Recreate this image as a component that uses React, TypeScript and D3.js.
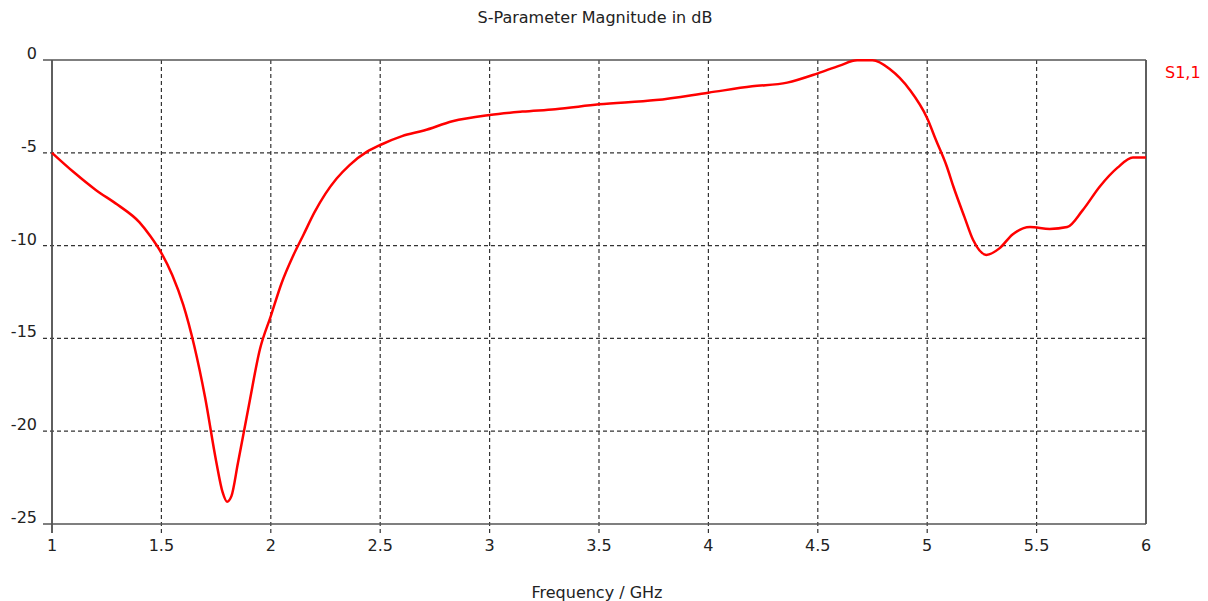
import React from "react";
import * as d3 from "d3";

const freq = [1.0, 1.1, 1.2, 1.3, 1.4, 1.45, 1.5, 1.55, 1.6, 1.65, 1.7, 1.75, 1.78, 1.8, 1.82, 1.85, 1.9, 1.95, 2.0, 2.05, 2.1, 2.15, 2.2, 2.25, 2.3, 2.36, 2.44, 2.5, 2.6, 2.7, 2.83, 3.0, 3.15, 3.3, 3.5, 3.76, 4.0, 4.2, 4.36, 4.5, 4.6, 4.68, 4.75, 4.83, 4.92, 5.0, 5.04, 5.09, 5.12, 5.17, 5.21, 5.27, 5.33, 5.39, 5.47, 5.56, 5.64, 5.71, 5.79, 5.87, 5.94, 6.0];
const s11 = [-5.0, -6.05, -7.0, -7.8, -8.75, -9.5, -10.4, -11.6, -13.2, -15.4, -18.2, -21.6, -23.3, -23.8, -23.5, -21.7, -18.6, -15.6, -13.8, -12.0, -10.6, -9.4, -8.2, -7.2, -6.4, -5.66, -4.94, -4.58, -4.1, -3.8, -3.3, -2.96, -2.78, -2.65, -2.39, -2.16, -1.76, -1.42, -1.22, -0.72, -0.3, -0.02, -0.02, -0.5, -1.6, -3.14, -4.31, -5.75, -6.83, -8.45, -9.7, -10.5, -10.15, -9.4, -9.0, -9.1, -9.0, -8.1, -6.8, -5.8, -5.25, -5.25];
const xTicks = [1, 1.5, 2, 2.5, 3, 3.5, 4, 4.5, 5, 5.5, 6];
const yTicks = [0, -5, -10, -15, -20, -25];
const title = "S-Parameter Magnitude in dB";
const xLabel = "Frequency / GHz";
const seriesName = "S1,1";

export default function App() {
  const left = 52, right = 1146, top = 60, bottom = 524;
  const x = d3.scaleLinear().domain([1, 6]).range([left, right]);
  const y = d3.scaleLinear().domain([-25, 0]).range([bottom, top]);
  const line = d3
    .line<number>()
    .x((_, i) => x(freq[i]))
    .y((d) => y(d))
    .curve(d3.curveMonotoneX);
  const font = "DejaVu Sans, Verdana, sans-serif";
  const axisColor = "#555";
  const gridColor = "#333";
  return (
    <svg width={1208} height={601} style={{ position: "absolute", left: 0, top: 0, background: "#fff" }} fontFamily={font}>
      <rect x={0} y={0} width={1208} height={601} fill="#fff" />
      <text x={595} y={23} textAnchor="middle" fontSize={16} fill="#222">{title}</text>
      {xTicks.map((t) => {
        const edge = t === 1 || t === 6;
        return (
          <line key={"gx" + t} x1={x(t)} x2={x(t)} y1={top} y2={t === 6 ? bottom : bottom + 9}
            stroke={edge ? axisColor : gridColor} strokeWidth={edge ? 1.5 : 1.2}
            strokeDasharray={edge ? undefined : "4,3"} />
        );
      })}
      {yTicks.map((t) => {
        const edge = t === 0 || t === -25;
        return (
          <line key={"gy" + t} x1={left - 9} x2={right} y1={y(t)} y2={y(t)}
            stroke={edge ? axisColor : gridColor} strokeWidth={edge ? 1.5 : 1.2}
            strokeDasharray={edge ? undefined : "4,3"} />
        );
      })}
      <line x1={x(6)} x2={x(6)} y1={top} y2={bottom} stroke={axisColor} strokeWidth={1.5} />
      <line x1={x(1)} x2={x(1)} y1={top} y2={bottom + 9} stroke={axisColor} strokeWidth={1.5} />
      {xTicks.map((t) => (
        <text key={"lx" + t} x={x(t)} y={551} textAnchor="middle" fontSize={16} fill="#222">{String(t)}</text>
      ))}
      {yTicks.map((t) => (
        <text key={"ly" + t} x={37} y={y(t) - 1} textAnchor="end" fontSize={16} fill="#222">{String(t)}</text>
      ))}
      <text x={597} y={598} textAnchor="middle" fontSize={16} fill="#222">{xLabel}</text>
      <path d={line(s11) || ""} fill="none" stroke="#ff0000" strokeWidth={2.5} strokeLinejoin="round" />
      <text x={1165} y={78} fontSize={16} fill="#ff0000">{seriesName}</text>
    </svg>
  );
}
